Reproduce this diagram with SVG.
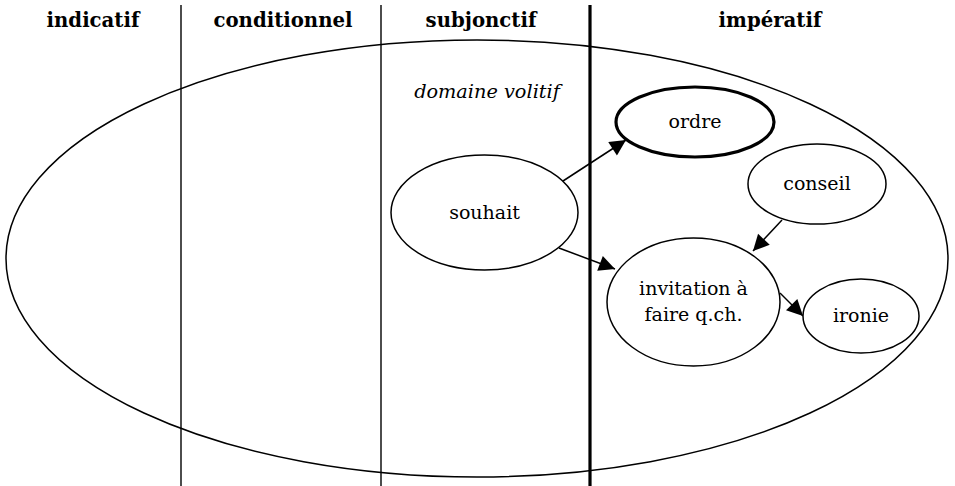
<svg xmlns="http://www.w3.org/2000/svg" width="955" height="486" viewBox="0 0 955 486">
  <style>
    text { font-family: "DejaVu Serif", "Liberation Serif", serif; fill: #000; text-anchor: middle; }
    .head { font-weight: bold; font-size: 19.7px; }
    .lbl { font-size: 19px; }
    .it { font-style: italic; font-size: 19.3px; }
    .node { fill: #fff; stroke: #000; stroke-width: 1.5; }
    .bold { stroke-width: 3.2; }
    .sep { stroke: #000; stroke-width: 1.4; }
    .edge { stroke: #000; stroke-width: 1.5; fill: none; marker-end: url(#arrow); }
  </style>
  <defs>
    <marker id="arrow" viewBox="0 0 10 10" refX="10" refY="5" markerUnits="userSpaceOnUse" markerWidth="20" markerHeight="16" orient="auto">
      <path d="M0,0 L10,5 L0,10 Z" fill="#000"/>
    </marker>
  </defs>

  <!-- mood columns -->
  <g id="columns">
    <line class="sep" x1="181" y1="5" x2="181" y2="486"/>
    <line class="sep" x1="381" y1="5" x2="381" y2="486"/>
    <line class="sep" x1="590" y1="5" x2="590" y2="486" style="stroke-width:3.2"/>
    <text class="head" x="93" y="27">indicatif</text>
    <text class="head" x="283" y="27">conditionnel</text>
    <text class="head" x="481" y="27">subjonctif</text>
    <text class="head" x="770" y="27">impératif</text>
  </g>

  <!-- volitive domain -->
  <g id="domaine">
    <ellipse cx="477" cy="258.5" rx="471" ry="218.5" fill="none" stroke="#000" stroke-width="1.5"/>
    <text class="it" x="487" y="98">domaine volitif</text>
  </g>

  <g id="connectors">
    <line class="edge" x1="563" y1="181" x2="626" y2="140"/>
    <line class="edge" x1="559" y1="248" x2="615" y2="269"/>
    <line class="edge" x1="782" y1="220" x2="753" y2="251"/>
    <line class="edge" x1="780" y1="293" x2="803" y2="316"/>
  </g>

  <g id="ordre">
    <ellipse class="node bold" cx="695" cy="122" rx="79" ry="35"/>
    <text class="lbl" x="695" y="128">ordre</text>
  </g>
  <g id="conseil">
    <ellipse class="node" cx="817" cy="184" rx="69" ry="40"/>
    <text class="lbl" x="817" y="190">conseil</text>
  </g>
  <g id="souhait">
    <ellipse class="node" cx="484.5" cy="212.5" rx="93.5" ry="57.5"/>
    <text class="lbl" x="484.5" y="219">souhait</text>
  </g>
  <g id="invitation">
    <ellipse class="node" cx="693.5" cy="302" rx="86.5" ry="64"/>
    <text class="lbl" x="693.5" y="295">invitation à</text>
    <text class="lbl" x="693.5" y="321">faire q.ch.</text>
  </g>
  <g id="ironie">
    <ellipse class="node" cx="861" cy="316" rx="58" ry="37"/>
    <text class="lbl" x="861" y="322">ironie</text>
  </g>
</svg>
